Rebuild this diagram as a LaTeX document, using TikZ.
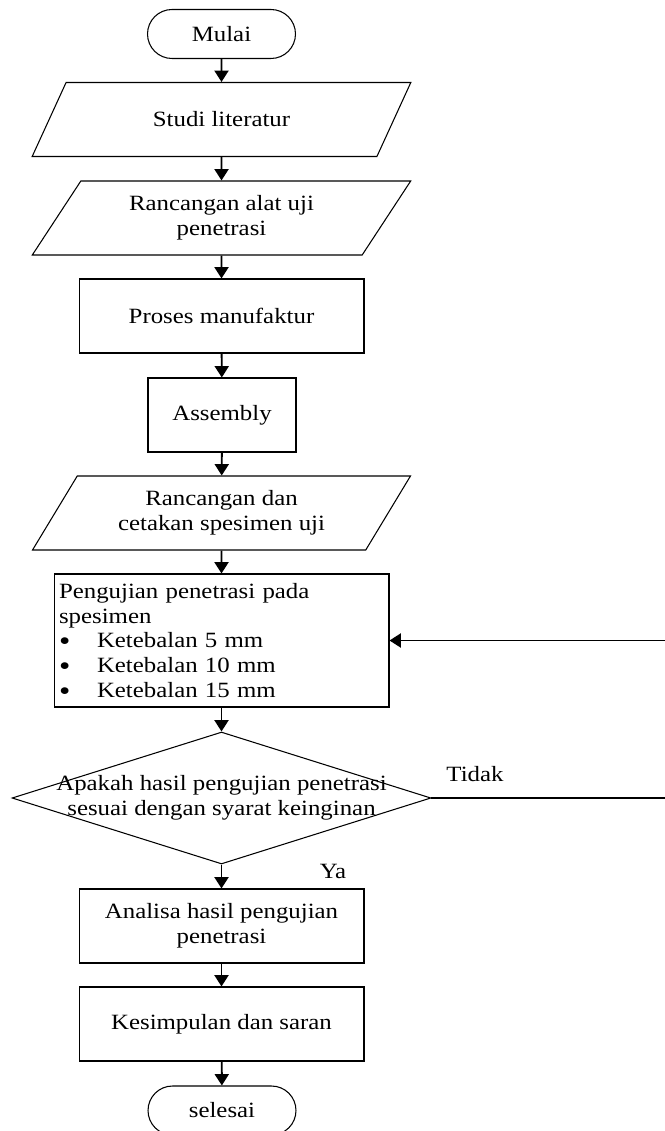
\documentclass[tikz,border=0pt]{standalone}
\usepackage{fontspec}
\setmainfont[FakeStretch=1.14]{Liberation Serif}
\usetikzlibrary{shapes.geometric,arrows.meta,positioning}

\newcommand{\butir}{\makebox[0.76cm][l]{\smash{\raisebox{-0.12em}{\scalebox{1.3}{\textbullet}}}}}

\begin{document}
\begin{tikzpicture}[x=0.02cm,y=-0.02cm]
    \tikzstyle{every node}=[font=\fontsize{12.4}{14.2}\selectfont]
    \tikzstyle{terminal}=[draw,line width=0.6pt,rectangle,rounded corners=0.49cm,minimum width=2.96cm,minimum height=0.98cm]
    \tikzstyle{io}=[draw,line width=0.6pt,trapezium,trapezium left angle=59,trapezium right angle=121,trapezium stretches=true,minimum width=7.58cm,minimum height=1.48cm,align=center]
    \tikzstyle{proc}=[draw,line width=0.6pt,rectangle,minimum height=1.48cm,align=center]
    \tikzstyle{cond}=[draw,line width=0.6pt,diamond,minimum width=8.38cm,minimum height=2.64cm,inner sep=0pt]
    \tikzstyle{line}=[line width=1.1pt,-{Triangle[length=6.5pt,width=8pt]}]

    \useasboundingbox (0,0) rectangle (664,1131);

    \node[terminal] (mulai) at (221.5,34) {Mulai};
    \node[io] (studi) at (221.5,119.5) {Studi literatur};
    \node[io] (rancang) at (221.5,218) {Rancangan alat uji\\penetrasi};
    \node[proc,minimum width=5.7cm] (manuf) at (221.5,316) {Proses manufaktur};
    \node[proc,minimum width=2.96cm] (assy) at (222,415) {Assembly};
    \node[io] (cetak) at (221.5,513) {Rancangan dan\\cetakan spesimen uji};
    \node[proc,minimum width=6.7cm,minimum height=2.66cm,text width=6.5cm,align=left,inner xsep=0.1cm] (uji) at (221.5,640.5)
        {Pengujian penetrasi pada\\spesimen\\
         \butir Ketebalan 5 mm\\
         \butir Ketebalan 10 mm\\
         \butir Ketebalan 15 mm};
    \node[cond,label={[align=center]center:Apakah hasil pengujian penetrasi\\sesuai dengan syarat keinginan}] (cek) at (221.5,798) {};
    \node[proc,minimum width=5.7cm] (analisa) at (221.5,926) {Analisa hasil pengujian\\penetrasi};
    \node[proc,minimum width=5.7cm] (simpul) at (221.5,1024) {Kesimpulan dan saran};
    \node[terminal] (selesai) at (222,1110.5) {selesai};

    \node (tidak) at (475,774) {Tidak};
    \node (ya) at (333,871) {Ya};

    \coordinate (balik) at (668,798);

    \draw[line] (mulai) -- (studi);
    \draw[line] (studi) -- (rancang);
    \draw[line] (rancang) -- (manuf);
    \draw[line] (manuf) -- (assy);
    \draw[line] (assy) -- (cetak);
    \draw[line] (cetak) -- (uji);
    \draw[line] (uji) -- (cek);
    \draw[line] (cek) -- (analisa);
    \draw[line] (analisa) -- (simpul);
    \draw[line] (simpul) -- (selesai);
    \draw[line] (cek.east) -- (balik) |- (uji.east);
\end{tikzpicture}
\end{document}
